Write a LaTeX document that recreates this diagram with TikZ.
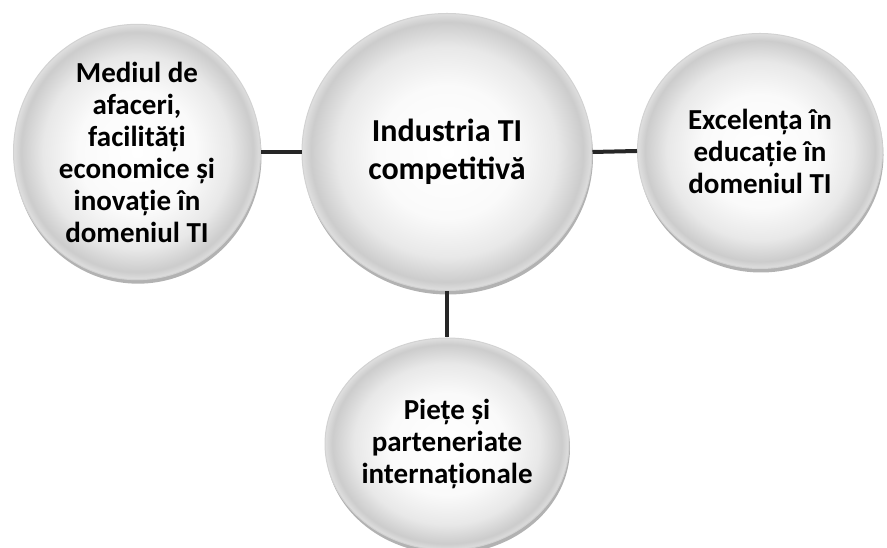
\documentclass[tikz,border=0pt]{standalone}
\usepackage{fontspec}
\setmainfont{Carlito}
\usetikzlibrary{shapes.geometric,shadows}
\pgfdeclareradialshading{sphere}{\pgfpoint{0bp}{0bp}}{color(0bp)=(white); color(12bp)=(white!96!gray); color(19bp)=(gray!18); color(23.5bp)=(gray!40); color(25bp)=(gray!25); color(50bp)=(gray!25)}
\begin{document}
\begin{tikzpicture}[x=1pt, y=1pt,
  ball/.style={ellipse, inner sep=0pt, align=center, draw=gray!35, line width=1pt,
    shading=sphere,
    drop shadow={shadow xshift=1pt, shadow yshift=-4pt, opacity=0.3, fill=black},
    font=\fontsize{29}{32}\selectfont\bfseries},
  link/.style={line width=4pt, color=black!85}]
  \useasboundingbox (0,0) rectangle (887,548);

  \node[ball, minimum width=247, minimum height=227] (mediu) at (137,396)
    {Mediul de\\afaceri,\\facilități\\economice și\\inovație în\\domeniul TI};
  \node[ball, minimum width=290, minimum height=277,
    font=\fontsize{32}{38}\selectfont\bfseries] (industria) at (447,396)
    {Industria TI\\competitivă};
  \node[ball, minimum width=245, minimum height=235] (educatie) at (760,397)
    {Excelența în\\educație în\\domeniul TI};
  \node[ball, minimum width=244, minimum height=212] (piete) at (447,104)
    {Piețe și\\parteneriate\\internaționale};

  \draw[link] (mediu.east) -- (industria.west);
  \draw[link] (industria.east) -- (educatie.west);
  \draw[link] (industria.south) -- (piete.north);
\end{tikzpicture}
\end{document}
